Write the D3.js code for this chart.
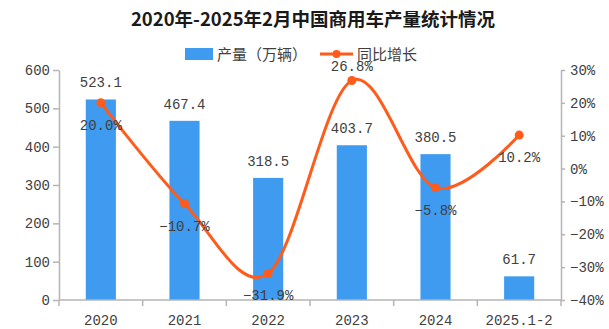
<!DOCTYPE html>
<html>
<head>
<meta charset="utf-8">
<script src="https://cdn.jsdelivr.net/npm/d3@7/dist/d3.min.js"></script>
<style>
  html, body { margin: 0; padding: 0; background: #fff; }
  svg { display: block; }
  .num { font-family: "Liberation Mono", "DejaVu Sans Mono", monospace; font-size: 14px; fill: #404040; }
  .cjk { font-family: "Noto Sans CJK SC", sans-serif; }
  .axis path, .axis line { stroke: #b4b4b4; stroke-width: 1.5; }
  .axis text { font-family: "Liberation Mono", "DejaVu Sans Mono", monospace; font-size: 14px; fill: #404040; }
</style>
</head>
<body>
<svg id="chart" width="609" height="329"></svg>
<script>
// Commercial vehicle output (10k units) and year-on-year growth (%)
const categories = ["2020", "2021", "2022", "2023", "2024", "2025.1-2"];
const output = [523.1, 467.4, 318.5, 403.7, 380.5, 61.7];
const growth = [20.0, -10.7, -31.9, 26.8, -5.8, 10.2];
const leftTicks = [0, 100, 200, 300, 400, 500, 600];
const rightTicks = [-40, -30, -20, -10, 0, 10, 20, 30];
// growth labels sit above the point where true
const growthLabelAbove = [false, false, false, true, false, false];

const barColor = "#3e9bf0";
const lineColor = "#ff5b1b";

const svg = d3.select("#chart");
const plotL = 59, plotR = 561, plotT = 70, plotB = 300;

const x = d3.scaleBand().domain(categories).range([plotL, plotR]).padding(0);
const yL = d3.scaleLinear().domain([0, 600]).range([plotB, plotT]);
const yR = d3.scaleLinear().domain([-40, 30]).range([plotB, plotT]);

// Title
svg.append("text")
  .attr("class", "cjk")
  .attr("x", 313).attr("y", 26)
  .attr("text-anchor", "middle")
  .attr("font-size", 18.5).attr("font-weight", "bold")
  .attr("fill", "#1a1a1a")
  .text("2020年-2025年2月中国商用车产量统计情况");

// Legend
const lg = svg.append("g");
lg.append("rect").attr("x", 185).attr("y", 48).attr("width", 28).attr("height", 12).attr("fill", barColor);
lg.append("text").attr("class", "cjk").attr("x", 217).attr("y", 59.5)
  .attr("font-size", 15).attr("fill", "#404040").text("产量（万辆）");
lg.append("line").attr("x1", 320).attr("x2", 353).attr("y1", 54).attr("y2", 54)
  .attr("stroke", lineColor).attr("stroke-width", 3);
lg.append("circle").attr("cx", 336.5).attr("cy", 54).attr("r", 4).attr("fill", lineColor);
lg.append("text").attr("class", "cjk").attr("x", 357).attr("y", 59.5)
  .attr("font-size", 15).attr("fill", "#404040").text("同比增长");

// Bars
const bw = x.bandwidth() * 0.36;
svg.append("g").selectAll("rect").data(categories).join("rect")
  .attr("x", (d) => x(d) + x.bandwidth() / 2 - bw / 2)
  .attr("y", (d, i) => yL(output[i]))
  .attr("width", bw)
  .attr("height", (d, i) => yL(0) - yL(output[i]))
  .attr("fill", barColor);

// Axes
svg.append("g").attr("class", "axis")
  .attr("transform", `translate(${plotL},0)`)
  .call(d3.axisLeft(yL).tickValues(leftTicks).tickSize(6).tickPadding(3).tickSizeOuter(0));

svg.append("g").attr("class", "axis")
  .attr("transform", `translate(${plotR},0)`)
  .call(d3.axisRight(yR).tickValues(rightTicks).tickSize(4).tickPadding(5).tickSizeOuter(0)
    .tickFormat((d) => (d < 0 ? "\u2212" + Math.abs(d) : d) + "%"));

const axB = svg.append("g").attr("class", "axis")
  .attr("transform", `translate(0,${plotB})`)
  .call(d3.axisBottom(x).tickSize(0).tickPadding(15).tickSizeOuter(0));
axB.select(".domain").attr("d", `M${plotL},0H${plotR}`);

// Category boundary ticks on the x axis
const bounds = categories.map((c) => x(c)).concat([x(categories[categories.length - 1]) + x.bandwidth()]);
svg.append("g").selectAll("line").data(bounds).join("line")
  .attr("x1", (d) => d).attr("x2", (d) => d)
  .attr("y1", plotB).attr("y2", plotB + 6)
  .attr("stroke", "#b4b4b4").attr("stroke-width", 1.5);

// Growth line
const pts = categories.map((c, i) => [x(c) + x.bandwidth() / 2, yR(growth[i])]);
svg.append("path")
  .attr("d", d3.line().curve(d3.curveCatmullRom.alpha(0))(pts))
  .attr("fill", "none").attr("stroke", lineColor).attr("stroke-width", 3);
svg.append("g").selectAll("circle").data(pts).join("circle")
  .attr("cx", (d) => d[0]).attr("cy", (d) => d[1]).attr("r", 4.5).attr("fill", lineColor);

// Bar value labels
svg.append("g").selectAll("text").data(categories).join("text")
  .attr("class", "num")
  .attr("x", (d) => x(d) + x.bandwidth() / 2)
  .attr("y", (d, i) => yL(output[i]) - 12)
  .attr("text-anchor", "middle")
  .text((d, i) => output[i].toFixed(1));

// Growth labels
svg.append("g").selectAll("text").data(categories).join("text")
  .attr("class", "num")
  .attr("x", (d) => x(d) + x.bandwidth() / 2)
  .attr("y", (d, i) => yR(growth[i]) + (growthLabelAbove[i] ? -10 : 27))
  .attr("text-anchor", "middle")
  .text((d, i) => (growth[i] < 0 ? "\u2212" : "") + Math.abs(growth[i]).toFixed(1) + "%");
</script>
</body>
</html>
